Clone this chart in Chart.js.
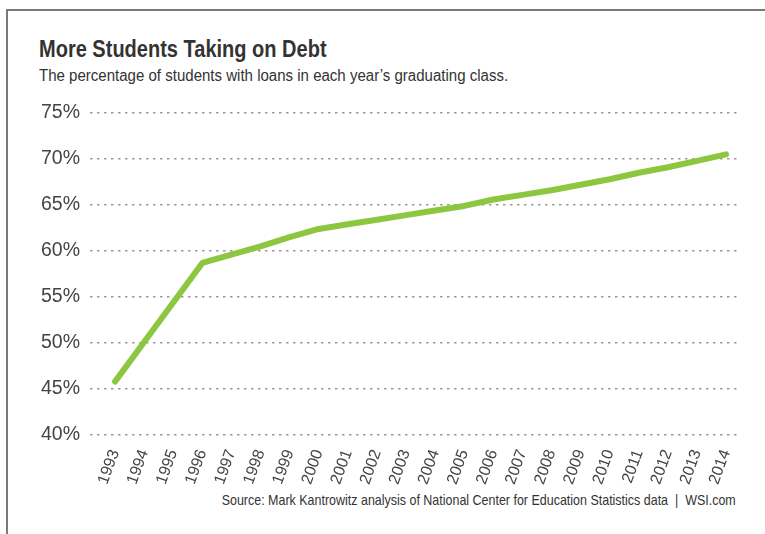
<!DOCTYPE html>
<html>
<head>
<meta charset="utf-8">
<script src="https://cdn.jsdelivr.net/npm/chart.js@4"></script>
<style>
  html, body { margin: 0; padding: 0; background: #fff; }
  body { width: 765px; height: 534px; position: relative; overflow: hidden;
         font-family: "Liberation Sans", Arial, sans-serif; color: #333; }
  .frame { position: absolute; left: 6px; top: 9px; width: 780px; height: 600px;
           border-left: 2px solid #7a7a7a; border-top: 2px solid #7a7a7a; }
  .title { position: absolute; left: 39px; top: 36px; font-size: 23px; font-weight: bold; color: #333;
           transform: scaleX(0.87); transform-origin: left top; white-space: nowrap; }
  .subtitle { position: absolute; left: 39px; top: 65px; font-size: 17.3px; color: #333;
              transform: scaleX(0.87); transform-origin: left top; white-space: nowrap; }
  .source { position: absolute; right: 29px; top: 492px; font-size: 14.5px; color: #333;
            transform: scaleX(0.86); transform-origin: right top; white-space: nowrap; }
  #wrap { position: absolute; left: 0; top: 0; width: 765px; height: 534px; }
</style>
</head>
<body>
<div class="frame"></div>
<div class="title">More Students Taking on Debt</div>
<div class="subtitle">The percentage of students with loans in each year’s graduating class.</div>
<div class="source">Source: Mark Kantrowitz analysis of National Center for Education Statistics data &nbsp;|&nbsp; WSI.com</div>
<div id="wrap"><canvas id="chart"></canvas></div>
<script>
// ── Data ─────────────────────────────────────────────
const years = [1993, 1994, 1995, 1996, 1997, 1998, 1999, 2000, 2001, 2002, 2003,
               2004, 2005, 2006, 2007, 2008, 2009, 2010, 2011, 2012, 2013, 2014];
const pctWithLoans = [45.8, 50.1, 54.4, 58.7, 59.6, 60.5, 61.5, 62.4, 62.9, 63.4, 63.9,
                      64.4, 64.9, 65.6, 66.1, 66.6, 67.2, 67.8, 68.5, 69.1, 69.8, 70.5];
const yTicks = [40, 45, 50, 55, 60, 65, 70, 75];

const FONT = '"Liberation Sans", Arial, sans-serif';

new Chart(document.getElementById('chart').getContext('2d'), {
  type: 'line',
  data: {
    datasets: [{
      data: years.map((y, i) => ({ x: y, y: pctWithLoans[i] })),
      borderColor: '#8dc63f', borderWidth: 6,
      borderCapStyle: 'round', borderJoinStyle: 'round',
      pointRadius: 0, tension: 0, fill: false
    }]
  },
  options: {
    responsive: true, maintainAspectRatio: false, animation: false,
    layout: { padding: { left: 31, top: 113, right: 27, bottom: 43 } },
    plugins: { legend: { display: false }, tooltip: { enabled: false } },
    scales: {
      x: {
        type: 'linear', min: 1992.14, max: 2014.41,
        afterBuildTicks: s => { s.ticks = years.map(v => ({ value: v })); },
        grid: { display: false }, border: { display: false },
        ticks: { autoSkip: false, minRotation: 70, maxRotation: 70, padding: 4,
                 color: '#444', font: { family: FONT, size: 16 },
                 callback: v => String(v) }
      },
      y: {
        min: 40, max: 75,
        afterBuildTicks: s => { s.ticks = yTicks.map(v => ({ value: v })); },
        border: { display: false, dash: [2.5, 4.5] },
        grid: { color: '#9a9a9a', lineWidth: 1.5, drawTicks: false },
        ticks: { padding: 10, color: '#444', font: { family: FONT, size: 19.5 },
                 callback: v => v + '%' }
      }
    }
  }
});
</script>
</body>
</html>
